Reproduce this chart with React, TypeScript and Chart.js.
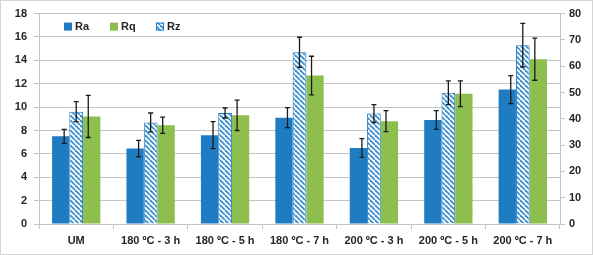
import React, { useEffect, useRef } from "react";
import { Chart, registerables } from "chart.js";

Chart.register(...registerables);

const categories = ["UM", "180 ºC - 3 h", "180 ºC - 5 h", "180 ºC - 7 h", "200 ºC - 3 h", "200 ºC - 5 h", "200 ºC - 7 h"];
const raValues = [7.5, 6.45, 7.6, 9.1, 6.5, 8.9, 11.5];
const raErrors = [0.6, 0.7, 1.15, 0.85, 0.8, 0.8, 1.2];
const rqValues = [9.2, 8.45, 9.3, 12.7, 8.8, 11.15, 14.1];
const rqErrors = [1.8, 0.7, 1.3, 1.65, 0.9, 1.1, 1.8];
const rzValues = [42.7, 38.6, 42.2, 65.3, 42.0, 49.9, 68.0];
const rzErrors = [3.8, 3.6, 1.9, 5.7, 3.4, 4.5, 8.3];
const legendOrder = ["Ra", "Rq", "Rz"];

const BLUE = "#1f7cc3";
const GREEN = "#8dbe4e";
const HATCH = "#3a8fd0";
const TEXT = "#262626";
const GRID = "#c4c4c4";
const FONT = "'Liberation Sans', Arial, sans-serif";

function makeHatch(): CanvasPattern | string {
  const s = 5;
  const c = document.createElement("canvas");
  c.width = s;
  c.height = s;
  const ctx = c.getContext("2d");
  if (!ctx) return HATCH;
  ctx.fillStyle = "#ffffff";
  ctx.fillRect(0, 0, s, s);
  ctx.strokeStyle = HATCH;
  ctx.lineWidth = 1.8;
  for (const k of [-s, 0, s]) {
    ctx.beginPath();
    ctx.moveTo(k, 0);
    ctx.lineTo(k + s, s);
    ctx.stroke();
  }
  const p = ctx.createPattern(c, "repeat");
  return p || HATCH;
}

const errorBarPlugin = {
  id: "errorBars",
  afterDatasetsDraw(chart: any) {
    const ctx = chart.ctx;
    chart.data.datasets.forEach((ds: any, i: number) => {
      const meta = chart.getDatasetMeta(i);
      if (meta.hidden) return;
      const scale = chart.scales[ds.yAxisID];
      meta.data.forEach((el: any, j: number) => {
        const v = ds.data[j];
        const e = ds.errors[j];
        const w = el.width || 0;
        const x = el.x + (ds.errOffset || 0) * w;
        const yt = scale.getPixelForValue(v + e);
        const yb = scale.getPixelForValue(v - e);
        ctx.save();
        ctx.strokeStyle = "#1a1a1a";
        ctx.lineWidth = 1.3;
        ctx.beginPath();
        ctx.moveTo(x, yt);
        ctx.lineTo(x, yb);
        ctx.moveTo(x - 2.5, yt);
        ctx.lineTo(x + 2.5, yt);
        ctx.moveTo(x - 2.5, yb);
        ctx.lineTo(x + 2.5, yb);
        ctx.stroke();
        ctx.restore();
      });
    });
  },
};

const frameLegendPlugin = {
  id: "frameLegend",
  beforeDraw(chart: any) {
    const ctx = chart.ctx;
    ctx.save();
    ctx.fillStyle = "#ffffff";
    ctx.fillRect(0, 0, chart.width, chart.height);
    ctx.strokeStyle = "#d4d4d4";
    ctx.lineWidth = 1;
    ctx.strokeRect(0.5, 0.5, chart.width - 1, chart.height - 1);
    ctx.restore();
  },
  afterDraw(chart: any) {
    const ctx = chart.ctx;
    const area = chart.chartArea;
    let x = area.left + 25;
    const y = area.top + 13;
    ctx.save();
    ctx.font = `bold 11px ${FONT}`;
    ctx.textBaseline = "middle";
    legendOrder.forEach((name) => {
      const ds = chart.data.datasets.find((d: any) => d.label === name);
      if (!ds) return;
      ctx.fillStyle = ds.backgroundColor;
      ctx.fillRect(x, y - 4, 8, 8);
      if (ds.borderWidth) {
        ctx.strokeStyle = ds.borderColor;
        ctx.lineWidth = 1;
        ctx.strokeRect(x + 0.5, y - 3.5, 7, 7);
      }
      ctx.fillStyle = TEXT;
      ctx.fillText(name, x + 11, y + 0.5);
      x += 46;
    });
    ctx.restore();
  },
};

export default function App() {
  const ref = useRef<HTMLCanvasElement>(null);

  useEffect(() => {
    document.body.style.margin = "0";
    if (!ref.current) return;
    const hatch = makeHatch();
    const chart = new Chart(ref.current, {
      type: "bar",
      data: {
        labels: categories,
        datasets: [
          {
            label: "Ra",
            data: raValues,
            errors: raErrors,
            errOffset: 0.2,
            yAxisID: "y",
            backgroundColor: BLUE,
            borderWidth: 0,
            barPercentage: 1.116,
          } as any,
          {
            label: "Rz",
            data: rzValues,
            errors: rzErrors,
            errOffset: 0,
            yAxisID: "y1",
            backgroundColor: hatch,
            borderColor: BLUE,
            borderWidth: 1,
            barPercentage: 0.884,
          } as any,
          {
            label: "Rq",
            data: rqValues,
            errors: rqErrors,
            errOffset: -0.2,
            yAxisID: "y",
            backgroundColor: GREEN,
            borderWidth: 0,
            barPercentage: 1.116,
          } as any,
        ],
      },
      options: {
        animation: false,
        responsive: false,
        maintainAspectRatio: false,
        layout: { padding: { top: 13, left: 0, right: 0, bottom: 0 } },
        plugins: {
          legend: { display: false },
          tooltip: { enabled: false },
        },
        datasets: { bar: { categoryPercentage: 0.625 } },
        scales: {
          x: {
            offset: true,
            grid: { display: true, drawOnChartArea: false, drawTicks: true, tickLength: 5, color: GRID, offset: true },
            border: { display: true, color: GRID },
            ticks: { color: TEXT, font: { family: FONT, size: 11, weight: "bold" }, padding: 5, maxRotation: 0, autoSkip: false },
            afterFit: (s: any) => { s.height = 31; },
          },
          y: {
            position: "left",
            min: 0,
            max: 18,
            ticks: { stepSize: 2, color: TEXT, font: { family: FONT, size: 11, weight: "bold" }, padding: 7 },
            grid: { color: GRID, tickLength: 5 },
            border: { display: true, color: GRID },
            afterFit: (s: any) => { s.width = 39; },
          },
          y1: {
            position: "right",
            min: 0,
            max: 80,
            ticks: { stepSize: 10, color: TEXT, font: { family: FONT, size: 11, weight: "bold" }, padding: 4 },
            grid: { drawOnChartArea: false, color: GRID, tickLength: 5 },
            border: { display: true, color: GRID },
            afterFit: (s: any) => { s.width = 33; },
          },
        },
      } as any,
      plugins: [errorBarPlugin, frameLegendPlugin],
    });
    return () => chart.destroy();
  }, []);

  return (
    <div style={{ width: 593, height: 255 }}>
      <canvas ref={ref} width={593} height={255} style={{ display: "block", width: 593, height: 255 }} />
    </div>
  );
}
